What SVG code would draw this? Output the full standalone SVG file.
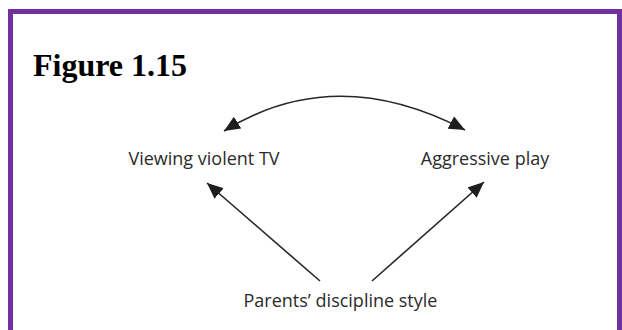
<svg xmlns="http://www.w3.org/2000/svg" width="622" height="330" viewBox="0 0 622 330">
<style>
.lbl{font-family:"Open Sans","Liberation Sans",sans-serif;font-size:18px;fill:#2b2b2b;text-anchor:middle}
.edge{fill:none;stroke:#262626;stroke-width:1.6}
</style>
<defs>
<marker id="ah" markerUnits="userSpaceOnUse" markerWidth="18" markerHeight="14" refX="16" refY="7" orient="auto-start-reverse">
<path d="M0,0 L16,7 L0,14 Z" fill="#1e1e1e"/>
</marker>
</defs>
<rect x="0" y="0" width="622" height="330" fill="#ffffff"/>
<rect x="10.5" y="11.5" width="609" height="400" fill="none" stroke="#7030A0" stroke-width="5"/>
<text x="33" y="76" font-family="'Liberation Serif',serif" font-weight="bold" font-size="32" fill="#000">Figure 1.15</text>
<g id="connectors">
<path class="edge" d="M224,131 Q335,62 465,130" marker-start="url(#ah)" marker-end="url(#ah)"/>
<path class="edge" d="M320,281 L207,183" marker-end="url(#ah)"/>
<path class="edge" d="M372,281 L484,182" marker-end="url(#ah)"/>
</g>
<g id="node-tv"><text class="lbl" x="204" y="165">Viewing violent TV</text></g>
<g id="node-play"><text class="lbl" x="485" y="165">Aggressive play</text></g>
<g id="node-parents"><text class="lbl" x="340.5" y="307">Parents’ discipline style</text></g>
</svg>
